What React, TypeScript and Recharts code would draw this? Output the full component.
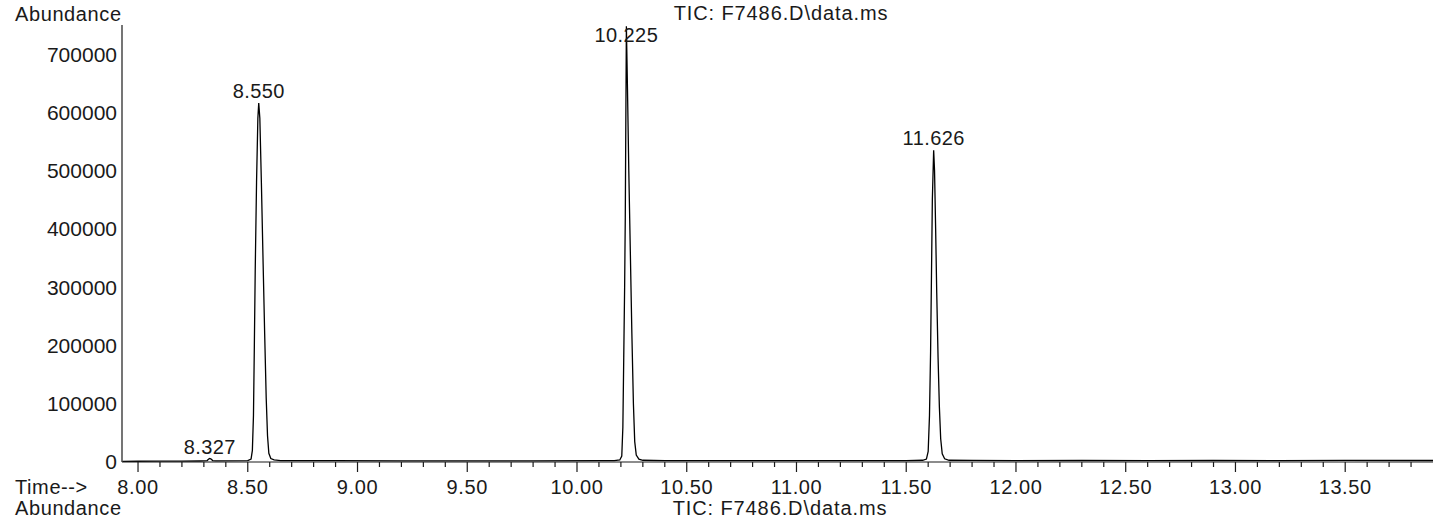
import { LineChart, Line, XAxis, YAxis, ReferenceDot } from "recharts";

// baseline between the peaks
const baseTimes = [7.93, 8.0, 8.1, 8.2, 8.28, 8.7, 8.9, 9.2, 9.5, 9.8, 10.1, 10.4, 10.7, 11.0, 11.3, 11.5, 11.8, 12.0, 12.3, 12.6, 12.9, 13.2, 13.5, 13.9];
const baseAbundance = [1200, 1300, 1500, 1500, 1700, 2500, 2200, 2000, 2000, 2100, 2300, 2500, 2300, 2200, 2300, 2500, 2800, 2500, 2600, 2500, 2600, 2500, 2700, 2600];

const peak0Times = [8.3, 8.315, 8.322, 8.327, 8.333, 8.34, 8.355];
const peak0Abundance = [1800, 2500, 5000, 6000, 5000, 2500, 1800];

const peak1Times = [8.5, 8.515, 8.521, 8.526, 8.53, 8.534, 8.54, 8.546, 8.55, 8.555, 8.562, 8.57, 8.577, 8.584, 8.59, 8.596, 8.605, 8.62, 8.65];
const peak1Abundance = [2500, 5000, 20000, 80000, 200000, 330000, 480000, 590000, 616000, 590000, 480000, 340000, 220000, 110000, 45000, 15000, 6000, 3500, 2500];

const peak2Times = [10.17, 10.195, 10.204, 10.209, 10.213, 10.217, 10.22, 10.223, 10.225, 10.23, 10.236, 10.243, 10.25, 10.257, 10.263, 10.27, 10.282, 10.3];
const peak2Abundance = [2500, 3500, 10000, 60000, 180000, 300000, 420000, 620000, 748000, 640000, 500000, 360000, 220000, 100000, 35000, 12000, 5000, 3000];

const peak3Times = [11.575, 11.592, 11.6, 11.606, 11.611, 11.615, 11.619, 11.625, 11.629, 11.634, 11.639, 11.645, 11.651, 11.657, 11.664, 11.675, 11.695];
const peak3Abundance = [3000, 5000, 18000, 80000, 190000, 320000, 450000, 535000, 500000, 400000, 290000, 180000, 95000, 40000, 14000, 5500, 3000];

const peakLabels = ["8.327", "8.550", "10.225", "11.626"];
const peakTimes = [8.327, 8.55, 10.225, 11.625];
const peakApex = [6000, 616000, 748000, 535000];

const yTicks = [0, 100000, 200000, 300000, 400000, 500000, 600000, 700000];
const majorTicks = [8, 8.5, 9, 9.5, 10, 10.5, 11, 11.5, 12, 12.5, 13, 13.5];
const majorLabels = ["8.00", "8.50", "9.00", "9.50", "10.00", "10.50", "11.00", "11.50", "12.00", "12.50", "13.00", "13.50"];
const minorTicks = [8.1, 8.2, 8.3, 8.4, 8.6, 8.7, 8.8, 8.9, 9.1, 9.2, 9.3, 9.4, 9.6, 9.7, 9.8, 9.9, 10.1, 10.2, 10.3, 10.4, 10.6, 10.7, 10.8, 10.9, 11.1, 11.2, 11.3, 11.4, 11.6, 11.7, 11.8, 11.9, 12.1, 12.2, 12.3, 12.4, 12.6, 12.7, 12.8, 12.9, 13.1, 13.2, 13.3, 13.4, 13.6, 13.7, 13.8];

const FONT = '"Liberation Sans", Arial, sans-serif';
const INK = "#1a1a1a";

const data = [
  ...baseTimes.map((t, i) => ({ time: t, abundance: baseAbundance[i] })),
  ...peak0Times.map((t, i) => ({ time: t, abundance: peak0Abundance[i] })),
  ...peak1Times.map((t, i) => ({ time: t, abundance: peak1Abundance[i] })),
  ...peak2Times.map((t, i) => ({ time: t, abundance: peak2Abundance[i] })),
  ...peak3Times.map((t, i) => ({ time: t, abundance: peak3Abundance[i] })),
].sort((a, b) => a.time - b.time);

const allTicks = [...majorTicks, ...minorTicks].sort((a, b) => a - b);

function TimeTick({ x, y, payload }: any) {
  const i = majorTicks.indexOf(payload.value);
  const major = i >= 0;
  return (
    <g>
      <line x1={x} x2={x} y1={y} y2={y + (major ? 10 : 5)} stroke={INK} strokeWidth={1.2} />
      {major && (
        <text x={x} y={y + 32} textAnchor="middle" fontSize={20} fill={INK} fontFamily={FONT} letterSpacing={0.6}>
          {majorLabels[i]}
        </text>
      )}
    </g>
  );
}

function PeakLabel({ viewBox, value }: any) {
  const cx = viewBox.x;
  const cy = Math.max(viewBox.y - 12, 35);
  return (
    <text x={cx} y={cy} textAnchor="middle" dominantBaseline="central" fontSize={20} fill={INK} fontFamily={FONT} letterSpacing={0.4}>
      {value}
    </text>
  );
}

export default function App() {
  return (
    <div style={{ position: "absolute", left: 0, top: 0, width: 1435, height: 519, background: "#fff" }}>
      <LineChart width={1435} height={519} data={data} margin={{ top: 25, right: 2, left: 0, bottom: 0 }}>
        <XAxis
          dataKey="time"
          type="number"
          domain={[7.927, 13.9]}
          allowDataOverflow
          ticks={allTicks}
          interval={0}
          height={57}
          tickSize={0}
          tickMargin={0}
          tickLine={false}
          tick={<TimeTick />}
          axisLine={{ stroke: INK, strokeWidth: 1.2 }}
        />
        <YAxis
          type="number"
          domain={[0, 750000]}
          allowDataOverflow
          ticks={yTicks}
          interval={0}
          width={122}
          tickSize={0}
          tickMargin={5}
          tickLine={false}
          tick={{ fontSize: 21, fill: INK, fontFamily: FONT }}
          axisLine={{ stroke: INK, strokeWidth: 1.2 }}
        />
        <Line
          type="linear"
          dataKey="abundance"
          stroke="#000"
          strokeWidth={1.3}
          dot={false}
          isAnimationActive={false}
        />
        {peakLabels.map((label, i) => (
          <ReferenceDot
            key={label}
            x={peakTimes[i]}
            y={peakApex[i]}
            r={0}
            ifOverflow="visible"
            label={<PeakLabel value={label} />}
          />
        ))}
      </LineChart>
      <svg width={1435} height={519} style={{ position: "absolute", left: 0, top: 0, pointerEvents: "none" }}>
        <g fontFamily={FONT} fontSize={20} fill={INK} dominantBaseline="central">
          <text x={15} y={14} letterSpacing={0.6}>Abundance</text>
          <text x={781} y={13} textAnchor="middle" letterSpacing={0.9}>TIC: F7486.D\data.ms</text>
          <text x={15} y={487} letterSpacing={0.6}>Time--&gt;</text>
          <text x={15} y={508} letterSpacing={0.6}>Abundance</text>
          <text x={780} y={508} textAnchor="middle" letterSpacing={0.9}>TIC: F7486.D\data.ms</text>
        </g>
      </svg>
    </div>
  );
}
